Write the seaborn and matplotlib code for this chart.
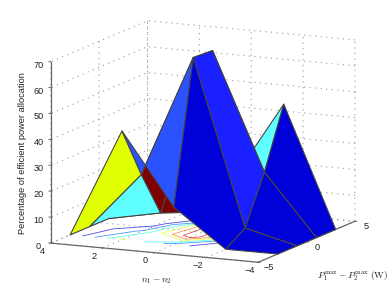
import numpy as np
import matplotlib
matplotlib.use('Agg')
import matplotlib.pyplot as plt
import seaborn as sns

# surface
n_diff = [4, 2, 0, -2, -4]
p_diff = [-3, -1, 1, 3]
row_m3 = [0, 42, 14.4, 0, 0]
row_m1 = [0, 22, 69, 5, 0]
row_p1 = [0, 4, 68.5, 23.4, 0]
row_p3 = [0, 1, 15, 46.5, 0]

x_ticks = [4, 2, 0, -2, -4]
y_ticks = [-5, 0, 5]
z_ticks = [0, 10, 20, 30, 40, 50, 60, 70]
contour_levels = [10, 20, 30, 40, 50, 60]

# flat face colours
yellow, cyan, maroon = '#e0ff00', '#5fffff', '#7f0000'
navy, bright, medium = '#0000d8', '#1a20ff', '#2a52ff'
face_colors = np.array([
    [yellow, medium, navy, navy, navy],
    [cyan, maroon, bright, navy, navy],
    [bright, maroon, cyan, navy, navy],
    [navy, navy, navy, navy, navy],
])

sns.set_theme(style='white')
plt.rcParams['font.family'] = ['Liberation Sans', 'DejaVu Sans']
plt.rcParams['mathtext.fontset'] = 'cm'

X, Y = np.meshgrid(n_diff, p_diff)
Z = np.array([row_m3, row_m1, row_p1, row_p3])

# seaborn refuses the name 'jet', so blend its anchors
jet_like = sns.blend_palette(['#00008f', '#0000ff', '#00ffff', '#ffff00', '#ff0000', '#800000'], as_cmap=True)

fig = plt.figure(figsize=(3.9, 2.94), dpi=100)
ax = fig.add_axes([17 / 390, -33.4 / 294, 362 / 390, 362 / 294],
                  projection='3d', proj_type='ortho', computed_zorder=False)
ax.view_init(elev=11.4, azim=-65)
ax.set_box_aspect((229, 229, 185))
ax.patch.set_alpha(0)

ax.contour(X, Y, Z, levels=contour_levels, zdir='z', offset=0, vmin=0, vmax=70,
           cmap=jet_like, linewidths=0.6, alpha=0.7, zorder=1)
ax.plot_surface(X, Y, Z, facecolors=face_colors, rstride=1, cstride=1, shade=False,
                edgecolor='#454545', linewidth=0.8, antialiased=True, zorder=2)

ax.set_xlim(4, -4)
ax.set_ylim(-5, 5)
ax.set_zlim(0, 70)
ax.set_xticks(x_ticks)
ax.set_yticks(y_ticks)
ax.set_zticks(z_ticks)
ax.zaxis.set_ticks_position('lower')

for axis in (ax.xaxis, ax.yaxis, ax.zaxis):
    axis.pane.set_facecolor('white')
    axis.pane.set_edgecolor('none')
    axis.line.set_color('#666666')
    axis.line.set_linewidth(0.9)
    axis._axinfo['grid'].update(color='#999999', linestyle=(0, (1, 4)), linewidth=0.8)
    axis._axinfo['tick'].update(inward_factor=0.12, outward_factor=0.0, linewidth={True: 0.7, False: 0.5})
ax.zaxis._axinfo['tick'].update(inward_factor=0.0, outward_factor=0.12)

# MATLAB style tick labels: push each label along one box direction only
ax.zaxis._get_tickdir = lambda position: 0
ax.xaxis._axmask = lambda: np.array([False, True, False])
ax.yaxis._axmask = lambda: np.array([True, False, False])
ax.zaxis._axmask = lambda: np.array([True, False, False])
ax.tick_params(axis='x', labelsize=6.6, labelcolor='#222222', color='#666666', pad=4.5)
ax.tick_params(axis='y', labelsize=6.6, labelcolor='#222222', color='#666666', pad=-1)
ax.tick_params(axis='z', labelsize=6.6, labelcolor='#222222', color='#666666', pad=0)
for label in ax.get_xticklabels() + ax.get_yticklabels():
    label.set_va('top')

fig.text(23 / 390, 1 - 153 / 294, 'Percentage of efficient power allocation', rotation=90,
         ha='center', va='center', fontsize=6.65, color='#222222')
fig.text(156 / 390, 1 - 281 / 294, r'$n_1 - n_2$', ha='center', va='center', fontsize=6.8, color='#222222')
fig.text(353 / 390, 1 - 276 / 294, r'$P_1^{\max} - P_2^{\max}\ \mathrm{(W)}$', ha='center', va='center',
         fontsize=6.8, color='#222222')

fig.savefig('out.png', dpi=100)
